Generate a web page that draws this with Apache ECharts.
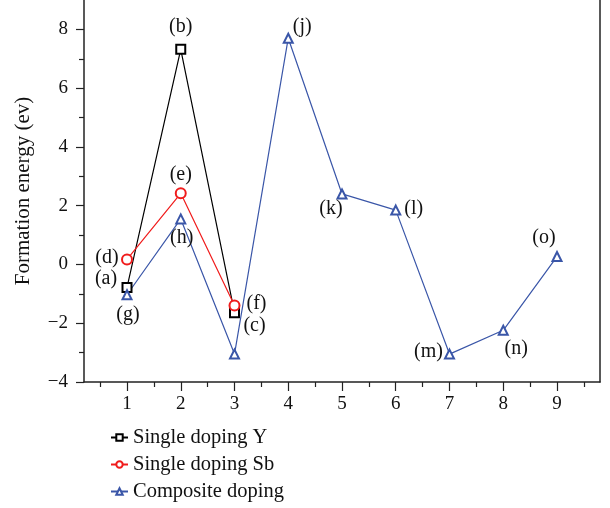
<!DOCTYPE html>
<html>
<head>
<meta charset="utf-8">
<script src="https://cdn.jsdelivr.net/npm/echarts@6/dist/echarts.min.js"></script>
<style>
  html, body { margin: 0; padding: 0; background: #fff; }
  #chart { width: 610px; height: 508px; }
</style>
</head>
<body>
<div id="chart"></div>
<script>
// 数据
var xValues = [1, 2, 3, 4, 5, 6, 7, 8, 9];
var singleY = [-0.78, 7.32, -1.64];
var singleSb = [0.17, 2.42, -1.40];
var composite = [-1.03, 1.55, -3.05, 7.70, 2.40, 1.85, -3.05, -2.24, 0.27];
var namesY = ['(a)', '(b)', '(c)'];
var namesSb = ['(d)', '(e)', '(f)'];
var namesComp = ['(g)', '(h)', '', '(j)', '(k)', '(l)', '(m)', '(n)', '(o)'];
var yMajor = [-4, -2, 0, 2, 4, 6, 8];
var yMinor = [-3, -1, 1, 3, 5, 7];
var xMinor = [0.5, 1.5, 2.5, 3.5, 4.5, 5.5, 6.5, 7.5, 8.5, 9.5];

// 标注偏移
var offY = [[-21, -9], [0, -23], [20, 13]];
var offSb = [[-20, -2], [0, -19], [22, -2]];
var offComp = [[1, 20], [1, 19], [0, 0], [14, -11], [-11, 15], [18, -1], [-21, -2], [13, 18], [-13, -19]];

var font = 'Liberation Serif';
var axisColor = '#222';

function build(vals, names, offs) {
    var out = [];
    for (var i = 0; i < vals.length; i++) {
        out.push({
            value: [xValues[i], vals[i]],
            label: {
                show: names[i] !== '',
                formatter: names[i],
                position: 'inside',
                offset: offs[i],
                align: 'center',
                verticalAlign: 'middle'
            }
        });
    }
    return out;
}

function minus(v) {
    return v < 0 ? '\u2212' + Math.abs(v) : '' + v;
}

var labelStyle = { color: '#111', fontFamily: font, fontSize: 20 };

var chart = echarts.init(document.getElementById('chart'));
var option = {
    animation: false,
    grid: { left: 84, right: 10, top: 0, bottom: 126 },
    legend: {
        orient: 'vertical',
        left: 110,
        top: 427,
        padding: 0,
        height: 81,
        itemWidth: 17,
        itemHeight: 8,
        itemGap: 6,
        textStyle: { fontFamily: font, fontSize: 20.5, color: '#111' },
        data: ['Single doping Y', 'Single doping Sb', 'Composite doping']
    },
    xAxis: [{
        type: 'value', min: 0.2, max: 9.8,
        splitLine: { show: false },
        axisLine: { onZero: false, lineStyle: { color: axisColor, width: 1.5 } },
        axisTick: { customValues: xValues, length: 9, lineStyle: { color: axisColor, width: 1.2 } },
        axisLabel: { customValues: xValues, margin: 13, color: '#111', fontFamily: font, fontSize: 19 }
    }, {
        type: 'value', min: 0.2, max: 9.8, position: 'bottom',
        splitLine: { show: false },
        axisLine: { show: false, onZero: false },
        axisTick: { customValues: xMinor, length: 5, lineStyle: { color: axisColor, width: 1.2 } },
        axisLabel: { show: false }
    }],
    yAxis: [{
        type: 'value', min: -4, max: 9,
        name: 'Formation energy (ev)',
        nameLocation: 'middle',
        nameGap: 50,
        nameTextStyle: { fontFamily: font, fontSize: 21, color: '#111' },
        splitLine: { show: false },
        axisLine: { show: true, onZero: false, lineStyle: { color: axisColor, width: 1.5 } },
        axisTick: { customValues: yMajor, length: 8, lineStyle: { color: axisColor, width: 1.2 } },
        axisLabel: { customValues: yMajor, margin: 16, formatter: minus, color: '#111', fontFamily: font, fontSize: 19 }
    }, {
        type: 'value', min: -4, max: 9, position: 'right',
        splitLine: { show: false },
        axisLine: { show: true, onZero: false, lineStyle: { color: axisColor, width: 1.5 } },
        axisTick: { show: false },
        axisLabel: { show: false }
    }, {
        type: 'value', min: -4, max: 9, position: 'left',
        splitLine: { show: false },
        axisLine: { show: false, onZero: false },
        axisTick: { customValues: yMinor, length: 5, lineStyle: { color: axisColor, width: 1.2 } },
        axisLabel: { show: false }
    }],
    series: [{
        name: 'Single doping Y',
        type: 'line',
        symbol: 'emptyRect',
        symbolSize: 9,
        color: '#000',
        lineStyle: { width: 1.2 },
        label: labelStyle,
        data: build(singleY, namesY, offY)
    }, {
        name: 'Single doping Sb',
        type: 'line',
        symbol: 'emptyCircle',
        symbolSize: 10,
        color: '#f01c1c',
        lineStyle: { width: 1.2 },
        label: labelStyle,
        data: build(singleSb, namesSb, offSb)
    }, {
        name: 'Composite doping',
        type: 'line',
        symbol: 'emptyTriangle',
        symbolSize: 9,
        color: '#3a56a8',
        lineStyle: { width: 1.2 },
        label: labelStyle,
        data: build(composite, namesComp, offComp)
    }]
};
chart.setOption(option);
</script>
</body>
</html>
